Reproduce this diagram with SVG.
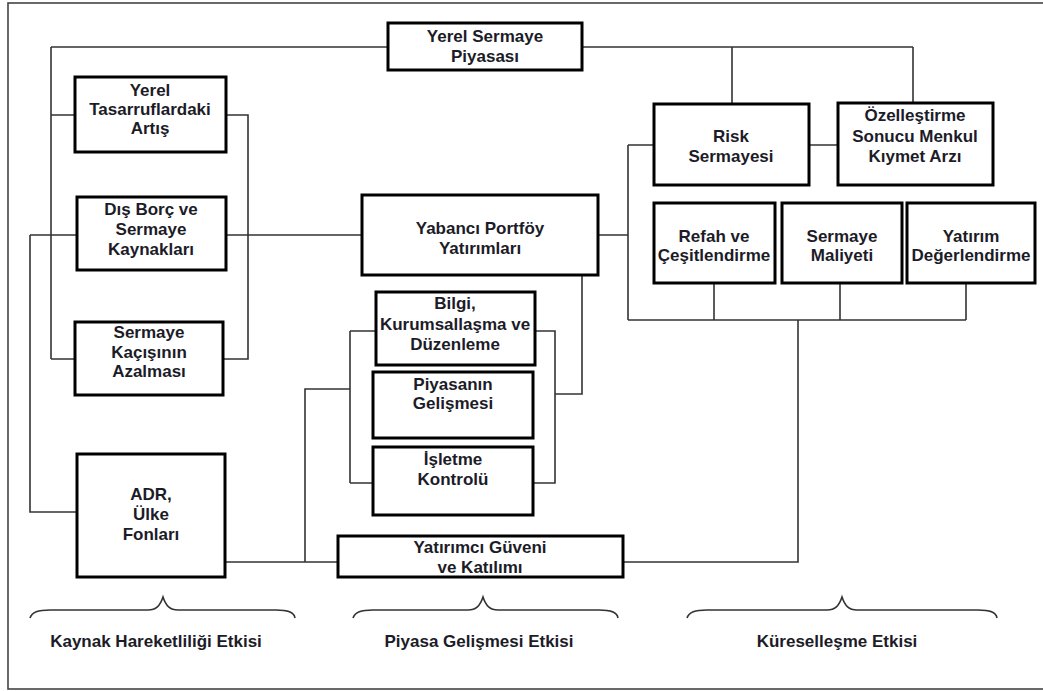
<svg xmlns="http://www.w3.org/2000/svg" width="1043" height="691" viewBox="0 0 1043 691">
<style>
.box{fill:#fff;stroke:#000;stroke-width:3}
.t{font-family:"Liberation Sans",Arial,sans-serif;font-weight:bold;font-size:17px;fill:#1c1c28;text-anchor:middle}
.c{fill:none;stroke:#333;stroke-width:1.6}
.br{fill:none;stroke:#333;stroke-width:1.6}
</style>
<rect x="8" y="3" width="1040" height="686" fill="#fff" stroke="#444" stroke-width="1.6"/>
<g id="connectors" class="c">
<path class="c" d="M51,47 H388 M582,47 H913 M51,47 V359 M51,115 H75 M51,359 H75"/>
<path class="c" d="M226,115 H248 V359 H223"/>
<path class="c" d="M30,235 H77 M226,235 H362 M30,235 V512 H77"/>
<path class="c" d="M225,562 H338 M305,562 V389 H350 M350,331 V483 M350,331 H376 M350,483 H373"/>
<path class="c" d="M535,331 H555 V483 H533 M555,394 H582 V275"/>
<path class="c" d="M598,235 H628 M628,145 V320 M628,145 H654 M809,145 H838"/>
<path class="c" d="M732,47 V104 M913,47 V103"/>
<path class="c" d="M714,283 V320 M840,283 V320 M966,283 V320 M628,320 H966 M798,320 V562 H623"/>
</g>
<g id="n-yerel-sermaye"><rect class="box" x="388" y="23" width="194" height="47"/><text class="t" x="485" y="42">Yerel Sermaye</text><text class="t" x="485" y="62">Piyasası</text></g>
<g id="n-tasarruf"><rect class="box" x="75" y="77" width="151" height="75"/><text class="t" x="150" y="96">Yerel</text><text class="t" x="150" y="115">Tasarruflardaki</text><text class="t" x="150" y="134">Artış</text></g>
<g id="n-disborc"><rect class="box" x="77" y="197" width="149" height="73"/><text class="t" x="151" y="215">Dış Borç ve</text><text class="t" x="151" y="235">Sermaye</text><text class="t" x="151" y="255">Kaynakları</text></g>
<g id="n-kacis"><rect class="box" x="75" y="322" width="148" height="73"/><text class="t" x="149" y="338">Sermaye</text><text class="t" x="149" y="358">Kaçışının</text><text class="t" x="149" y="377">Azalması</text></g>
<g id="n-adr"><rect class="box" x="77" y="454" width="148" height="123"/><text class="t" x="151" y="500">ADR,</text><text class="t" x="151" y="520">Ülke</text><text class="t" x="151" y="540">Fonları</text></g>
<g id="n-yabanci"><rect class="box" x="362" y="195" width="236" height="80"/><text class="t" x="480" y="234">Yabancı Portföy</text><text class="t" x="480" y="254">Yatırımları</text></g>
<g id="n-bilgi"><rect class="box" x="376" y="292" width="159" height="73"/><text class="t" x="455" y="309">Bilgi,</text><text class="t" x="455" y="330">Kurumsallaşma ve</text><text class="t" x="455" y="350">Düzenleme</text></g>
<g id="n-piyasanin"><rect class="box" x="373" y="372" width="160" height="66"/><text class="t" x="453" y="390">Piyasanın</text><text class="t" x="453" y="409">Gelişmesi</text></g>
<g id="n-isletme"><rect class="box" x="373" y="447" width="160" height="68"/><text class="t" x="453" y="465">İşletme</text><text class="t" x="453" y="485">Kontrolü</text></g>
<g id="n-yatirimci"><rect class="box" x="338" y="536" width="285" height="41"/><text class="t" x="480" y="553">Yatırımcı Güveni</text><text class="t" x="480" y="573">ve Katılımı</text></g>
<g id="n-risk"><rect class="box" x="654" y="104" width="155" height="81"/><text class="t" x="731" y="142">Risk</text><text class="t" x="731" y="162">Sermayesi</text></g>
<g id="n-ozel"><rect class="box" x="838" y="103" width="155" height="82"/><text class="t" x="915" y="121">Özelleştirme</text><text class="t" x="915" y="142">Sonucu Menkul</text><text class="t" x="915" y="162">Kıymet Arzı</text></g>
<g id="n-refah"><rect class="box" x="654" y="203" width="121" height="80"/><text class="t" x="714" y="242">Refah ve</text><text class="t" x="714" y="261">Çeşitlendirme</text></g>
<g id="n-maliyet"><rect class="box" x="782" y="203" width="120" height="80"/><text class="t" x="842" y="242">Sermaye</text><text class="t" x="842" y="261">Maliyeti</text></g>
<g id="n-yatirim"><rect class="box" x="907" y="203" width="128" height="80"/><text class="t" x="971" y="242">Yatırım</text><text class="t" x="971" y="261">Değerlendirme</text></g>
<g id="braces">
<path class="br" d="M30,618 C32,612 38,610 50,610 L148,610 C156,610 160,606 163,597 C166,606 170,610 178,610 L276,610 C288,610 294,612 295,618"/>
<path class="br" d="M353,618 C355,612 361,610 373,610 L468,610 C476,610 480,606 483,597 C486,606 490,610 498,610 L599,610 C611,610 617,612 618,618"/>
<path class="br" d="M687,618 C689,612 695,610 707,610 L827,610 C835,610 839,606 842,597 C845,606 849,610 857,610 L978,610 C990,610 996,612 997,618"/>
</g>
<g id="labels">
<text class="t" x="156" y="647">Kaynak Hareketliliği Etkisi</text>
<text class="t" x="479" y="647">Piyasa Gelişmesi Etkisi</text>
<text class="t" x="837" y="647">Küreselleşme Etkisi</text>
</g>
</svg>
